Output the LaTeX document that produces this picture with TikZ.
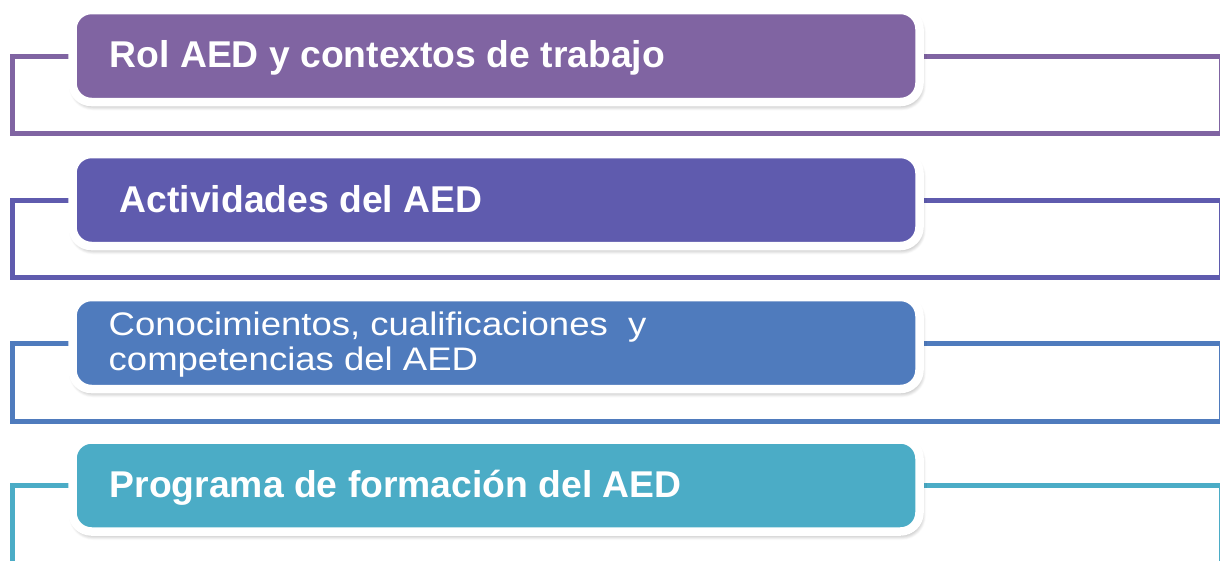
\documentclass[tikz,border=0pt]{standalone}
\usepackage{fontspec}
\setmainfont{Liberation Sans}
\newfontfamily\widefont[FakeStretch=1.12]{Liberation Sans}
\usetikzlibrary{backgrounds,shadows.blur}
\definecolor{cA}{HTML}{8064A2}
\definecolor{cB}{HTML}{5F5BAE}
\definecolor{cC}{HTML}{4F7BBD}
\definecolor{cD}{HTML}{4BACC6}
\tikzset{
  box/.style={draw=white, line width=8.5pt, rounded corners=19pt,
    minimum width=847pt, minimum height=92pt, inner sep=0pt, outer sep=0pt,
    blur shadow={shadow xshift=1.5pt, shadow yshift=-3.5pt, shadow blur radius=5pt,
      shadow blur steps=8, shadow opacity=45}},
  bracket/.style={line width=5pt},
  boldtext/.style={anchor=base west, inner sep=0pt, text=white,
    font=\fontsize{37.3}{40}\selectfont\bfseries},
  plaintext/.style={anchor=base west, inner sep=0pt, text=white,
    font=\widefont\fontsize{32.6}{35}\selectfont},
}
\begin{document}
\begin{tikzpicture}[x=1pt,y=-1pt]
\useasboundingbox (0,0) rectangle (1220,560);
% boxes
\node[box, fill=cA] (box1) at (496,56) {};
\node[box, fill=cB] (box2) at (496,200) {};
\node[box, fill=cC] (box3) at (496,343) {};
\node[box, fill=cD] (box4) at (496,485.5) {};
% texts
\node[boldtext] (t1) at (109.5,67.5) {Rol AED y contextos de trabajo};
\node[boldtext] (t2) at (119.5,212) {Actividades del AED};
\node[plaintext] (t3a) at (108.5,335) {Conocimientos, cualificaciones\ \ y};
\node[plaintext] (t3b) at (108.5,370) {competencias del AED};
\node[boldtext] (t4) at (109.5,497) {Programa de formación del AED};
% brackets
\begin{pgfonlayer}{background}
\coordinate (bl1) at (12.5,133.5); \coordinate (br1) at (1221,133.5);
\coordinate (bl2) at (12.5,277.5); \coordinate (br2) at (1221,277.5);
\coordinate (bl3) at (12.5,421); \coordinate (br3) at (1221,421);
\coordinate (bl4) at (12.5,563.5); \coordinate (br4) at (1221,563.5);
\draw[bracket, cA] (box1.west) -| (bl1) -- (br1) |- (box1.east);
\draw[bracket, cB] (box2.west) -| (bl2) -- (br2) |- (box2.east);
\draw[bracket, cC] (box3.west) -| (bl3) -- (br3) |- (box3.east);
\draw[bracket, cD] (box4.west) -| (bl4) -- (br4) |- (box4.east);
\end{pgfonlayer}
\end{tikzpicture}
\end{document}
